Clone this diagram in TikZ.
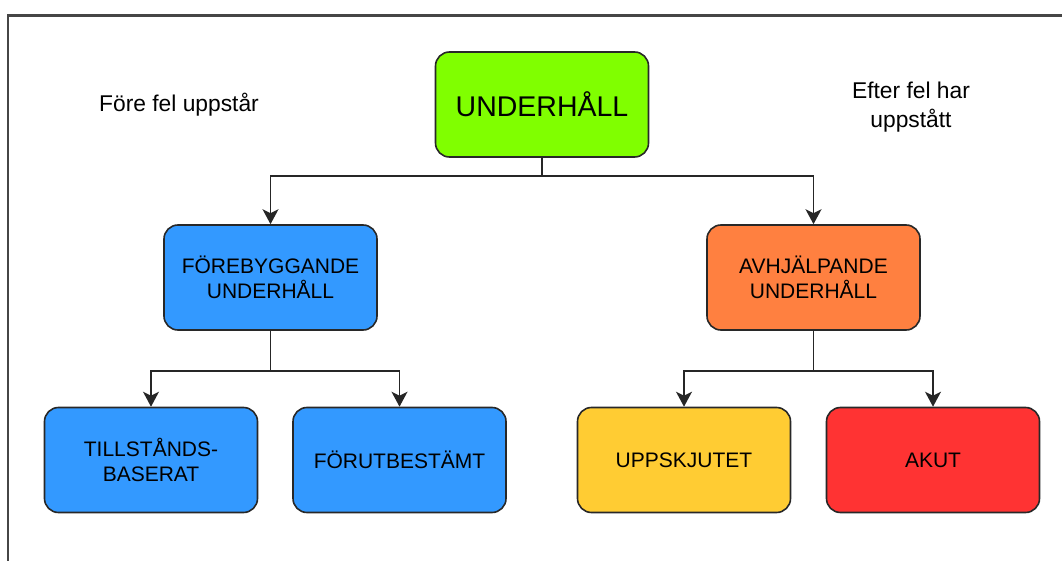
\documentclass[tikz,border=0pt]{standalone}
\usepackage{fontspec}
\setmainfont{Liberation Sans}
\usetikzlibrary{arrows.meta, positioning, calc}
\definecolor{rootgreen}{RGB}{128, 255, 0}
\definecolor{prevblue}{RGB}{51, 153, 255}
\definecolor{corrorange}{RGB}{255, 128, 64}
\definecolor{deferyellow}{RGB}{255, 204, 51}
\definecolor{acutered}{RGB}{255, 51, 51}
\definecolor{edgegray}{RGB}{40, 40, 40}
\definecolor{framegray}{RGB}{70, 70, 70}
\tikzset{
    box/.style={draw=edgegray, line width=1.6pt, rounded corners=14pt,
                minimum width=213pt, minimum height=105pt, align=center,
                font=\fontsize{21}{25.5}\selectfont},
    note/.style={align=center, font=\fontsize{22.8}{29}\selectfont},
    link/.style={draw=black!85, line width=1.8pt,
                 -{Stealth[width=16pt, length=15pt, inset=4pt]}}
}

\begin{document}
\begin{tikzpicture}[x=1pt, y=-1pt]
    \useasboundingbox (0,0) rectangle (1062,561);
    % page frame
    \draw[framegray, line width=2.2pt] (8,561) -- (8,15.5) -- (1062,15.5);

    \node[box, fill=rootgreen, font=\fontsize{28.5}{34}\selectfont] (root) at (542,104.5) {UNDERHÅLL};
    \node[note] (before) at (179,105) {Före fel uppstår};
    \node[note] (after) at (911,107) {Efter fel har\\uppstått};

    \node[box, fill=prevblue] (prev) at (270.5,277.5) {FÖREBYGGANDE\\UNDERHÅLL};
    \node[box, fill=corrorange] (corr) at (813.5,277.5) {AVHJÄLPANDE\\UNDERHÅLL};

    \node[box, fill=prevblue] (cond) at (151,460) {TILLSTÅNDS-\\BASERAT};
    \node[box, fill=prevblue] (fixed) at (399.5,460) {FÖRUTBESTÄMT};
    \node[box, fill=deferyellow] (defer) at (684,460) {UPPSKJUTET};
    \node[box, fill=acutered] (acute) at (933,460) {AKUT};

    \draw[link] (root.south) -- ++(0,18) -| (prev.north);
    \draw[link] (root.south) -- ++(0,18) -| (corr.north);
    \draw[link] (prev.south) -- ++(0,40) -| (cond.north);
    \draw[link] (prev.south) -- ++(0,40) -| (fixed.north);
    \draw[link] (corr.south) -- ++(0,40) -| (defer.north);
    \draw[link] (corr.south) -- ++(0,40) -| (acute.north);
\end{tikzpicture}
\end{document}
